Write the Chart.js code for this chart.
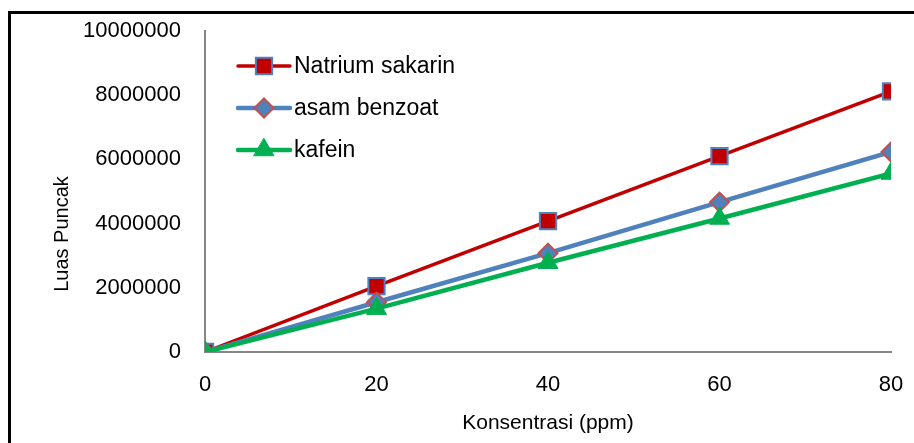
<!DOCTYPE html>
<html>
<head>
<meta charset="utf-8">
<script src="https://cdn.jsdelivr.net/npm/chart.js@4.4.1/dist/chart.umd.min.js"></script>
<style>
  html, body { margin: 0; padding: 0; background: #fff; overflow: hidden; }
  #frame { position: absolute; left: 8px; top: 11px; width: 1000px; height: 600px; border-left: 3px solid #000; border-top: 3px solid #000; }
  #wrap { position: absolute; left: 0; top: 0; width: 914px; height: 443px; }
</style>
</head>
<body>
<div id="frame"></div>
<div id="wrap"><canvas id="c" width="914" height="443"></canvas></div>
<script>
const concentrations = [0, 20, 40, 60, 80];
const seriesNames = ["Natrium sakarin", "asam benzoat", "kafein"];
const natriumSakarin = [0, 2050000, 4080000, 6100000, 8120000];
const asamBenzoat = [0, 1550000, 3080000, 4670000, 6230000];
const kafein = [0, 1350000, 2780000, 4160000, 5560000];
const yTicks = [0, 2000000, 4000000, 6000000, 8000000, 10000000];
const xTicks = [0, 20, 40, 60, 80];
const yTitle = "Luas Puncak";
const xTitle = "Konsentrasi (ppm)";

const FONT = '"Liberation Sans", Arial, sans-serif';
const toPts = arr => concentrations.map((x, i) => ({x: x, y: arr[i]}));

const legendPlugin = {
  id: 'insideLegend',
  afterDatasetsDraw(chart) {
    const ctx = chart.ctx;
    const x0 = 238, x1 = 290, xm = 264, tx = 294;
    const rows = [66, 108, 150];
    chart.data.datasets.forEach((ds, i) => {
      const y = rows[i];
      ctx.save();
      ctx.strokeStyle = ds.borderColor;
      ctx.lineWidth = ds.borderWidth;
      ctx.lineCap = 'round';
      ctx.beginPath(); ctx.moveTo(x0, y); ctx.lineTo(x1, y); ctx.stroke();
      ctx.fillStyle = ds.pointBackgroundColor;
      ctx.strokeStyle = ds.pointBorderColor;
      ctx.lineWidth = ds.pointBorderWidth;
      Chart.helpers.drawPoint(ctx, {
        pointStyle: ds.pointStyle, radius: ds.pointRadius, rotation: 0,
        borderWidth: ds.pointBorderWidth
      }, xm, y);
      ctx.fillStyle = '#000';
      ctx.font = '23px ' + FONT;
      ctx.textBaseline = 'middle';
      ctx.textAlign = 'left';
      ctx.fillText(seriesNames[i], tx, y + 1);
      ctx.restore();
    });
  }
};

const yTitlePlugin = {
  id: 'yTitle',
  afterDraw(chart) {
    const ctx = chart.ctx;
    ctx.save();
    ctx.translate(62, 234);
    ctx.rotate(-Math.PI / 2);
    ctx.fillStyle = '#000';
    ctx.font = '20px ' + FONT;
    ctx.textAlign = 'center';
    ctx.textBaseline = 'middle';
    ctx.fillText(yTitle, 0, 0);
    ctx.restore();
  }
};

new Chart(document.getElementById('c'), {
  type: 'line',
  data: {
    datasets: [
      { label: seriesNames[0], data: toPts(natriumSakarin), borderColor: '#C00000', borderWidth: 3.5,
        pointStyle: 'rect', pointRadius: 11.5, pointHoverRadius: 11.5, pointBackgroundColor: '#C00000', pointBorderColor: '#4F81BD', pointBorderWidth: 2, order: 3 },
      { label: seriesNames[1], data: toPts(asamBenzoat), borderColor: '#4F81BD', borderWidth: 4.5,
        pointStyle: 'rectRot', pointRadius: 9.5, pointHoverRadius: 9.5, pointBackgroundColor: '#4F81BD', pointBorderColor: '#C0504D', pointBorderWidth: 2, order: 2 },
      { label: seriesNames[2], data: toPts(kafein), borderColor: '#00B050', borderWidth: 4.5,
        pointStyle: 'triangle', pointRadius: 11.5, pointHoverRadius: 11.5, pointBackgroundColor: '#00B050', pointBorderColor: '#00B050', pointBorderWidth: 1, order: 1 }
    ]
  },
  options: {
    responsive: false,
    animation: false,
    layout: { padding: { left: 50, top: 31, right: 23, bottom: 0 } },
    plugins: { legend: { display: false }, tooltip: { enabled: false } },
    elements: { line: { tension: 0 } },
    scales: {
      x: {
        type: 'linear', min: 0, max: 80,
        afterBuildTicks: s => { s.ticks = xTicks.map(v => ({value: v})); },
        afterFit: s => { s.height = 91; s.paddingLeft = 0; s.paddingRight = 0; },
        grid: { display: false, drawTicks: false },
        border: { display: true, color: '#868686', width: 2 },
        ticks: { color: '#000', padding: 20, font: { family: FONT, size: 22 } },
        title: { display: true, text: xTitle, color: '#000', padding: { top: 8, bottom: 7 },
                 font: { family: FONT, size: 21 } }
      },
      y: {
        type: 'linear', min: 0, max: 10000000,
        afterBuildTicks: s => { s.ticks = yTicks.map(v => ({value: v})); },
        afterFit: s => { s.width = 155; s.paddingTop = 0; s.paddingBottom = 0; },
        grid: { display: false, drawTicks: false },
        border: { display: true, color: '#868686', width: 2 },
        ticks: { color: '#000', padding: 24, callback: v => String(v), font: { family: FONT, size: 22 } },
        title: { display: false }
      }
    }
  },
  plugins: [legendPlugin, yTitlePlugin]
});
</script>
</body>
</html>
